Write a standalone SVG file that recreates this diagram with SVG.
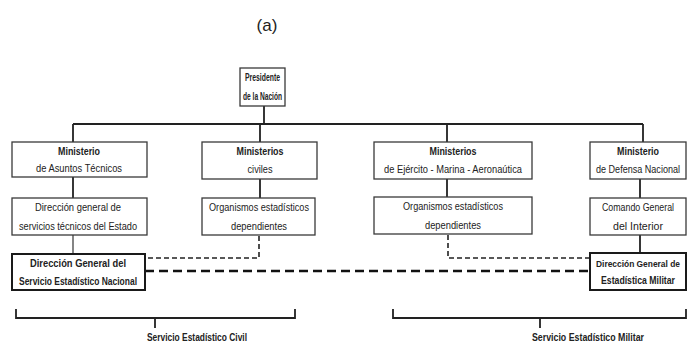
<svg xmlns="http://www.w3.org/2000/svg" width="688" height="344" viewBox="0 0 688 344">
<style>
.box{fill:#fff;stroke:#3a3a3a;stroke-width:1.3}
.boxb{fill:#fff;stroke:#1a1a1a;stroke-width:2}
.t{font-family:"Liberation Sans",Arial,sans-serif;font-size:10px;fill:#222;text-anchor:middle}
.b{font-weight:bold}
.ln{stroke:#222;stroke-width:1.8;fill:none}
.thin{stroke:#333;stroke-width:1.2;fill:none}
.d1{stroke:#222;stroke-width:1.6;stroke-dasharray:5 3;fill:none}
.d2{stroke:#111;stroke-width:2.6;stroke-dasharray:9 5;fill:none}
</style>
<rect width="688" height="344" fill="#fff"/>
<text x="267" y="31" font-family="Liberation Sans,Arial,sans-serif" font-size="17" fill="#222" text-anchor="middle">(a)</text>
<g id="connectors">
<path class="ln" d="M264 106V124M73 124H643M73 124V142M260 124V142M447 124V142M643 124V142"/>
<path class="ln" d="M73 177V198M260 179V198M447 179V197M640 179V198M640 235V253"/>
<path class="thin" d="M73 235V254"/>
<path class="d1" d="M259 236V258H145M448 235V258H590"/>
<path class="d2" d="M145 271H590"/>
<path class="ln" d="M16 309V318H295V309M155 318V328"/>
<path class="ln" d="M393 309V318H686V309M540 318V328"/>
</g>
<g id="presidente">
<rect class="box" x="240" y="68" width="45" height="38"/>
<text class="t b" x="262.5" y="81" textLength="35" lengthAdjust="spacingAndGlyphs">Presidente</text>
<text class="t b" x="262.5" y="100" textLength="39" lengthAdjust="spacingAndGlyphs">de la Nación</text>
</g>
<g id="min-asuntos">
<rect class="box" x="12" y="142" width="135" height="35"/>
<text class="t b" x="79" y="155" textLength="42" lengthAdjust="spacingAndGlyphs">Ministerio</text>
<text class="t" x="79" y="172" textLength="86" lengthAdjust="spacingAndGlyphs">de Asuntos Técnicos</text>
</g>
<g id="min-civiles">
<rect class="box" x="202" y="142" width="115" height="37"/>
<text class="t b" x="260" y="155" textLength="47" lengthAdjust="spacingAndGlyphs">Ministerios</text>
<text class="t" x="260" y="173" textLength="25" lengthAdjust="spacingAndGlyphs">civiles</text>
</g>
<g id="min-ejercito">
<rect class="box" x="374" y="142" width="158" height="37"/>
<text class="t b" x="453" y="155" textLength="47" lengthAdjust="spacingAndGlyphs">Ministerios</text>
<text class="t" x="453" y="173" textLength="138" lengthAdjust="spacingAndGlyphs">de Ejército - Marina - Aeronaútica</text>
</g>
<g id="min-defensa">
<rect class="box" x="590" y="142" width="96" height="37"/>
<text class="t b" x="638" y="155" textLength="42" lengthAdjust="spacingAndGlyphs">Ministerio</text>
<text class="t" x="638" y="173" textLength="84" lengthAdjust="spacingAndGlyphs">de Defensa Nacional</text>
</g>
<g id="dir-servicios">
<rect class="box" x="12" y="198" width="135" height="37"/>
<text class="t" x="78" y="211" textLength="86" lengthAdjust="spacingAndGlyphs">Dirección general de</text>
<text class="t" x="78" y="230" textLength="118" lengthAdjust="spacingAndGlyphs">servicios técnicos del Estado</text>
</g>
<g id="org-civiles">
<rect class="box" x="202" y="198" width="113" height="37"/>
<text class="t" x="259" y="211" textLength="100" lengthAdjust="spacingAndGlyphs">Organismos estadísticos</text>
<text class="t" x="259" y="230" textLength="56" lengthAdjust="spacingAndGlyphs">dependientes</text>
</g>
<g id="org-militares">
<rect class="box" x="374" y="197" width="158" height="37"/>
<text class="t" x="453" y="210" textLength="100" lengthAdjust="spacingAndGlyphs">Organismos estadísticos</text>
<text class="t" x="453" y="229" textLength="56" lengthAdjust="spacingAndGlyphs">dependientes</text>
</g>
<g id="comando">
<rect class="box" x="590" y="198" width="96" height="37"/>
<text class="t" x="638" y="211" textLength="72" lengthAdjust="spacingAndGlyphs">Comando General</text>
<text class="t" x="638" y="230" textLength="50" lengthAdjust="spacingAndGlyphs">del Interior</text>
</g>
<g id="dgsen">
<rect class="boxb" x="12" y="254" width="133" height="36"/>
<text class="t b" x="78" y="267" textLength="96" lengthAdjust="spacingAndGlyphs">Dirección General del</text>
<text class="t b" x="78" y="285" textLength="118" lengthAdjust="spacingAndGlyphs">Servicio Estadístico Nacional</text>
</g>
<g id="dgem">
<rect class="boxb" x="590" y="253" width="96" height="37"/>
<text class="t b" x="638" y="267" style="font-size:8.5px" textLength="84" lengthAdjust="spacingAndGlyphs">Dirección General de</text>
<text class="t b" x="638" y="284" textLength="74" lengthAdjust="spacingAndGlyphs">Estadística Militar</text>
</g>
<g id="labels">
<text class="t b" x="197" y="341" textLength="100" lengthAdjust="spacingAndGlyphs">Servicio Estadístico Civil</text>
<text class="t b" x="588" y="341" textLength="112" lengthAdjust="spacingAndGlyphs">Servicio Estadístico Militar</text>
</g>
</svg>
